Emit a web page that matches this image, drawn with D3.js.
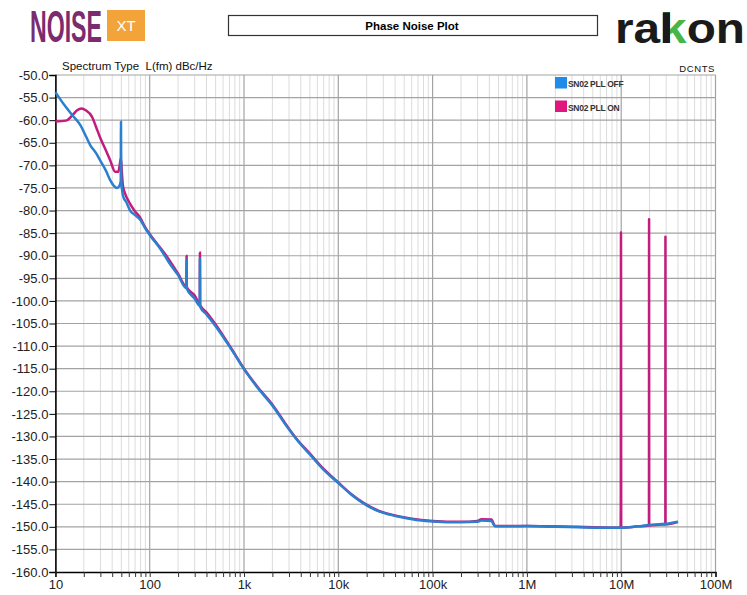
<!DOCTYPE html>
<html>
<head>
<meta charset="utf-8">
<script src="https://cdn.jsdelivr.net/npm/d3@7"></script>
<style>
 body { margin:0; background:#fff; }
 text { font-family: "Liberation Sans", Arial, sans-serif; white-space: pre; }
</style>
</head>
<body>
<script>
// Phase noise plot - two traces, PLL off / PLL on

// x ticks (decades) and their labels
var decadeTicks = [10, 100, 1e3, 1e4, 1e5, 1e6, 1e7, 1e8];
var decadeLabels = ["10", "100", "1k", "10k", "100k", "1M", "10M", "100M"];
// y ticks every 5 dB
var dbTicks = d3.range(-50, -160.1, -5);

var seriesNames = ["SN02 PLL OFF", "SN02 PLL ON"];

// trace 1 - PLL OFF (Hz, dBc/Hz)
var offFreq = [10, 12, 15, 18.4, 21, 23.4, 27, 30, 34, 38, 42, 45, 47.5, 49.3, 49.6, 49.9, 51, 53, 56, 62, 70, 79, 90,
 100, 130, 160, 200, 245, 246, 247.5, 300, 340, 341, 342.5, 400, 500, 718, 1000, 1400, 2040, 2800, 3600, 5000, 7000, 10000, 14000, 18500,
 27000, 35000, 50000, 67000, 1e5, 2e5, 3e5, 3.3e5, 4.2e5, 4.6e5, 7e5, 1e6, 2e6, 3.5e6, 6e6, 1e7, 1.5e7, 2e7, 2.7e7, 3.3e7, 4e7];
var offDb = [-53.8, -56.2, -58.8, -61.1, -63.5, -65.5, -67.3, -69, -71, -73.2, -74.6, -75, -74.6, -73.5, -60.3, -73, -75.5, -77.2, -78, -80, -81, -82, -84,
 -85.4, -88.5, -91.5, -94.3, -97.2, -90.9, -97.3, -99.5, -101.1, -90.6, -101.3, -103, -105.6, -110.4, -115.1, -119.3, -123.4, -127.6, -130.6, -134, -137.4, -140.3, -143, -144.8,
 -146.6, -147.3, -148, -148.5, -148.8, -149, -148.9, -148.6, -148.7, -149.9, -149.9, -149.8, -150, -150.1, -150.2, -150.2, -149.9, -149.6, -149.4, -149.2, -148.9];

// trace 2 - PLL ON
var onFreq = [10, 13, 15, 17, 19, 21, 24.4, 27, 30, 34, 38, 43, 46.5, 48, 49.5, 50.5, 52, 55, 62, 70, 79, 89,
 100, 150, 200, 245, 246, 247.5, 300, 340, 341, 342.5, 400, 500, 718, 1000, 1400, 2040, 2800, 3600, 5000, 7000, 10000, 14000, 18500, 27000, 35000, 1e5, 2e5,
 3e5, 3.3e5, 4.2e5, 4.6e5, 1e6, 3.5e6, 9.85e6, 9.9e6, 9.95e6, 1e7, 1.5e7, 1.97e7, 1.975e7, 1.98e7, 2.7e7, 2.94e7, 2.945e7, 2.95e7, 4e7];
var onDb = [-60.3, -60.1, -59, -57.8, -57.4, -57.8, -59.2, -61.5, -64, -66.5, -68.8, -71.4, -71.4, -70, -68.4, -71, -74.5, -76.3, -78.5, -80.2, -81.5, -83.6,
 -85.2, -90, -94, -96.8, -90, -97, -98.8, -100.6, -89.3, -100.9, -102.5, -105.2, -110.2, -115, -119.1, -123.2, -127.4, -130.5, -133.8, -137.2, -140.2, -142.9, -144.7, -146.5, -147.2, -148.7, -148.9,
 -148.7, -148.3, -148.4, -149.8, -149.8, -150, -150.2, -145.8, -84.8, -150.2, -149.9, -149.7, -81.9, -149.7, -149.5, -149.5, -85.8, -149.5, -148.9];

var offColor = "#2a7fcf";
var onColor = "#c21c7e";

var width = 747, height = 595;
// note: "top" is taken by window.top, so plot edges get their own names
var plotLeft = 55.4, plotRight = 715.5, plotTop = 75, plotBottom = 572;

var svg = d3.select("body").append("svg")
 .attr("width", width)
 .attr("height", height);

var x = d3.scaleLog().domain([10, 1e8]).range([plotLeft, plotRight]);
var y = d3.scaleLinear().domain([-50, -160]).range([plotTop, plotBottom]);

// --- header: logos and title box ---
// squeeze "NOISE" into 72px with a scale, not textLength
var noise = svg.append("text")
 .attr("x", 0).attr("y", 0)
 .attr("font-family", "'Liberation Sans Narrow', 'DejaVu Sans Condensed', sans-serif")
 .attr("font-weight", "bold")
 .attr("font-size", 45)
 .attr("fill", "#7c2b6f")
 .text("NOISE");
var noiseW = noise.node().getComputedTextLength();
noise.attr("transform", "translate(30,42) scale(" + (72 / noiseW) + ",1)");

svg.append("rect").attr("x", 107).attr("y", 10).attr("width", 38).attr("height", 31).attr("fill", "#f2a43a");
svg.append("text").attr("x", 126).attr("y", 31).attr("text-anchor", "middle")
 .attr("font-size", 15).attr("fill", "#fff").text("XT");

svg.append("rect").attr("x", 228.5).attr("y", 15.5).attr("width", 369).attr("height", 20)
 .attr("fill", "none").attr("stroke", "#333").attr("stroke-width", 1.2);
svg.append("text").attr("x", 412).attr("y", 30).attr("text-anchor", "middle")
 .attr("font-size", 11.5).attr("font-weight", "bold").text("Phase Noise Plot");

var rakon = svg.append("text")
 .attr("x", 615).attr("y", 43)
 .attr("font-size", 42).attr("font-weight", "bold")
 .attr("textLength", 130).attr("lengthAdjust", "spacingAndGlyphs")
 .attr("fill", "#1a1a1a");
rakon.append("tspan").text("ra");
rakon.append("tspan").attr("fill", "#47b64a").text("k");
rakon.append("tspan").text("on");
// black stem of the "k", arms stay green
var kBox = rakon.node().getExtentOfChar(2);
svg.append("rect")
 .attr("x", kBox.x + kBox.width * 0.1).attr("y", 43 - 42 * 0.73)
 .attr("width", kBox.width * 0.27).attr("height", 42 * 0.73)
 .attr("fill", "#1a1a1a");

// --- grid ---
var minorTicks = [];
for (var dec = 10; dec < 1e8; dec *= 10) {
 for (var m = 2; m <= 9; m++) minorTicks.push(dec * m);
}

svg.append("g").selectAll("line").data(minorTicks).join("line")
 .attr("x1", d => x(d)).attr("x2", d => x(d))
 .attr("y1", plotTop).attr("y2", plotBottom)
 .attr("stroke", "#dcdcdc").attr("stroke-width", 1);

svg.append("g").selectAll("line").data(decadeTicks.slice(1)).join("line")
 .attr("x1", d => x(d)).attr("x2", d => x(d))
 .attr("y1", plotTop).attr("y2", plotBottom)
 .attr("stroke", "#a3a3a3").attr("stroke-width", 1.2);

svg.append("g").selectAll("line").data(dbTicks.slice(0, -1)).join("line")
 .attr("x1", plotLeft).attr("x2", plotRight)
 .attr("y1", d => y(d)).attr("y2", d => y(d))
 .attr("stroke", "#a3a3a3").attr("stroke-width", 1.2);

// --- axes ---
var yAxis = d3.axisLeft(y)
 .tickValues(dbTicks)
 .tickSize(6)
 .tickFormat(d => d.toFixed(1));
var gy = svg.append("g").attr("transform", "translate(" + plotLeft + ",0)").call(yAxis);
gy.select(".domain").attr("stroke", "#000").attr("stroke-width", 1.6);
gy.selectAll(".tick text").attr("font-size", 13).attr("fill", "#222").attr("x", -7).attr("font-family", "'Liberation Sans', Arial, sans-serif");

var xAxis = d3.axisBottom(x)
 .tickValues(decadeTicks.concat(minorTicks))
 .tickSize(5)
 .tickFormat(d => {
  var i = decadeTicks.indexOf(d);
  return i >= 0 ? decadeLabels[i] : "";
 });
var gx = svg.append("g").attr("transform", "translate(0," + plotBottom + ")").call(xAxis);
gx.select(".domain").attr("stroke", "#000").attr("stroke-width", 1.6);
gx.selectAll(".tick line").attr("stroke", "#333");
gx.selectAll(".tick text").attr("font-size", 13).attr("fill", "#222").attr("y", 8).attr("font-family", "'Liberation Sans', Arial, sans-serif");

// --- traces ---
var line = d3.line().x(d => x(d[0])).y(d => y(d[1])).curve(d3.curveMonotoneX);

function drawTrace(freqs, dbs, color) {
 var pts = freqs.map((f, i) => [f, dbs[i]]);
 svg.append("path")
  .datum(pts)
  .attr("d", line)
  .attr("fill", "none")
  .attr("stroke", color)
  .attr("stroke-width", 2.5)
  .attr("stroke-linejoin", "round");
}

drawTrace(onFreq, onDb, onColor);
drawTrace(offFreq, offDb, offColor);

// --- labels and legend ---
svg.append("text").attr("x", 62).attr("y", 70).attr("font-size", 11.5).attr("fill", "#111")
 .text("Spectrum Type  L(fm) dBc/Hz");
svg.append("text").attr("x", 715).attr("y", 72).attr("text-anchor", "end").attr("font-size", 9.5)
 .attr("letter-spacing", 0.6).attr("fill", "#111").text("DCNTS");

var legendColors = ["#1e8ce8", "#e0177e"];
var legend = svg.append("g").selectAll("g").data(seriesNames).join("g")
 .attr("transform", (d, i) => "translate(555," + (77 + i * 23.5) + ")");
legend.append("rect").attr("width", 12).attr("height", 11.5).attr("fill", (d, i) => legendColors[i]);
legend.append("text").attr("x", 13).attr("y", 10).attr("font-size", 8.5).attr("font-weight", "bold")
 .attr("fill", "#333").attr("letter-spacing", -0.3).text(d => d);
</script>
</body>
</html>
